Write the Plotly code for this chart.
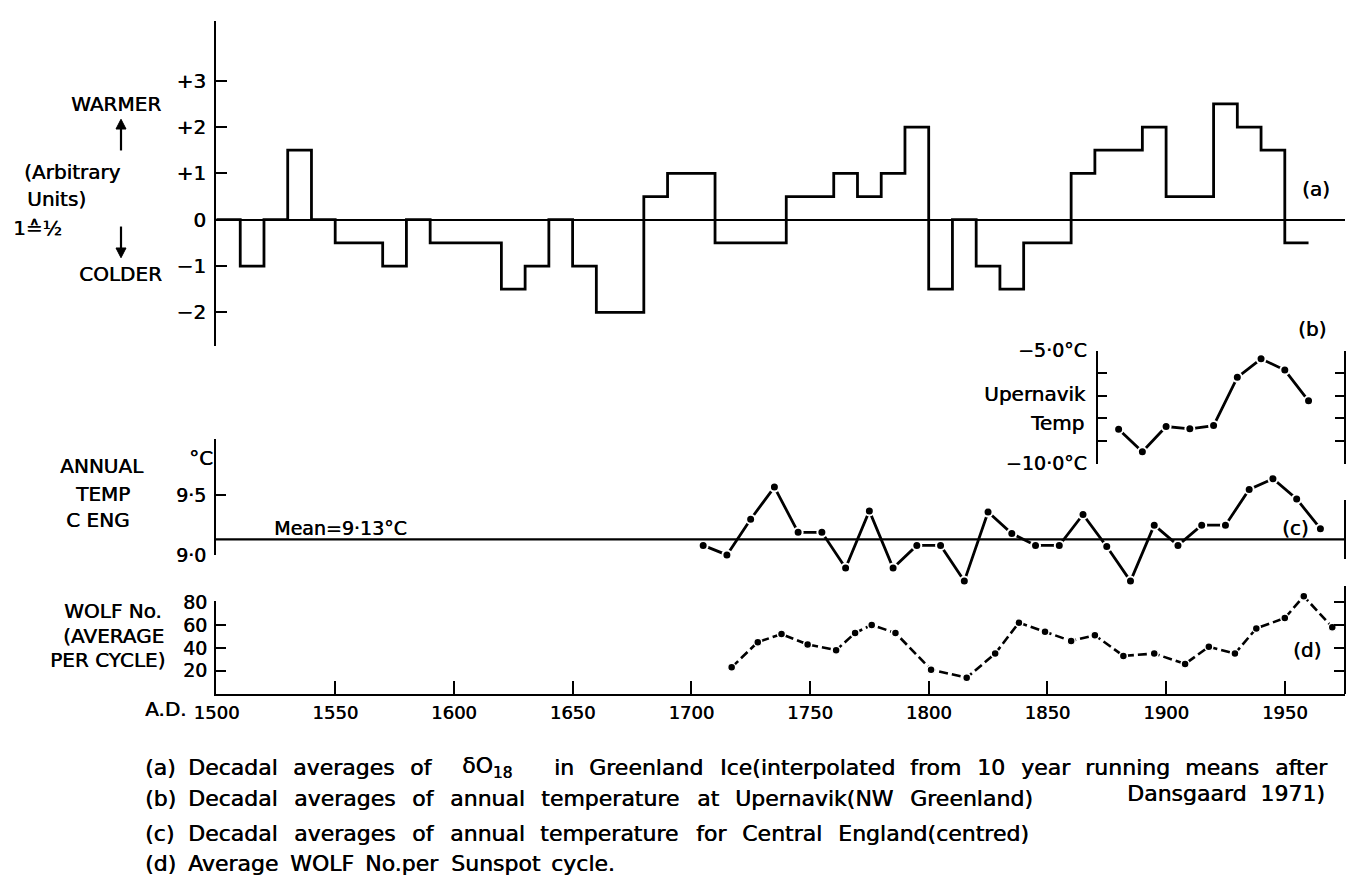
import plotly.graph_objects as go

# ---------------------------------------------------------------- data
# (a) decadal averages of d18O in Greenland ice (arbitrary units), by decade start
decade_start = [1500, 1510, 1520, 1530, 1540, 1550, 1560, 1570, 1580, 1590,
                1600, 1610, 1620, 1630, 1640, 1650, 1660, 1670, 1680, 1690,
                1700, 1710, 1720, 1730, 1740, 1750, 1760, 1770, 1780, 1790,
                1800, 1810, 1820, 1830, 1840, 1850, 1860, 1870, 1880, 1890,
                1900, 1910, 1920, 1930, 1940, 1950]
d18o = [0, -1, 0, 1.5, 0, -0.5, -0.5, -1, 0, -0.5,
        -0.5, -0.5, -1.5, -1, 0, -1, -2, -2, 0.5, 1,
        1, -0.5, -0.5, -0.5, 0.5, 0.5, 1, 0.5, 1, 2,
        -1.5, 0, -1, -1.5, -0.5, -0.5, 1, 1.5, 1.5, 2,
        0.5, 0.5, 2.5, 2, 1.5, -0.5]
last_decade_end = 1960

# (b) Upernavik decadal mean annual temperature (deg C)
upernavik_years = [1880, 1890, 1900, 1910, 1920, 1930, 1940, 1950, 1960]
upernavik_temp = [-8.48, -9.48, -8.36, -8.46, -8.32, -6.18, -5.36, -5.86, -7.22]

# (c) Central England decadal mean annual temperature (deg C), centred
cet_years = [1705, 1715, 1725, 1735, 1745, 1755, 1765, 1775, 1785, 1795,
             1805, 1815, 1825, 1835, 1845, 1855, 1865, 1875, 1885, 1895,
             1905, 1915, 1925, 1935, 1945, 1955, 1965]
cet_temp = [9.08, 9.00, 9.30, 9.57, 9.19, 9.19, 8.89, 9.37, 8.89, 9.08,
            9.08, 8.78, 9.36, 9.18, 9.08, 9.08, 9.34, 9.07, 8.78, 9.25,
            9.08, 9.25, 9.25, 9.55, 9.64, 9.47, 9.22]
cet_mean = 9.13

# (d) average Wolf number per sunspot cycle
wolf_years = [1717, 1728, 1738, 1749, 1761, 1769, 1776, 1786, 1801, 1816,
              1828, 1838, 1849, 1860, 1870, 1882, 1895, 1908, 1918, 1929,
              1938, 1950, 1958, 1970]
wolf_number = [23, 45, 52, 43, 38, 53, 60, 53, 21, 14,
               35, 62, 54, 46, 51, 33, 35, 26, 41, 35,
               57, 66, 85, 58]

year_ticks = [1500, 1550, 1600, 1650, 1700, 1750, 1800, 1850, 1900, 1950]
a_ticks = [-2, -1, 0, 1, 2, 3]
a_tick_text = ["\u22122", "\u22121", "0", "+1", "+2", "+3"]

# ---------------------------------------------------------------- layout helpers
W, H = 1355, 890
L, R = 216, 10
PLOT_W = W - L - R
X0 = 1499.79
X1 = X0 + PLOT_W / 2.374


def px_x(px):
    return (px - L) / PLOT_W


def px_y(py):
    return 1 - py / H


FONT = "DejaVu Sans"
INK = "#000000"
SHADOW = "0.5px 0px 0px #000000"   # slight embolden, like inked print


def font(size):
    return dict(family=FONT, size=size, color=INK, shadow=SHADOW)


fig = go.Figure()

# (a) step curve
fig.add_trace(go.Scatter(
    x=decade_start + [last_decade_end], y=d18o + [d18o[-1]],
    mode="lines", line=dict(color=INK, width=2.8, shape="hv"),
    xaxis="x", yaxis="y", showlegend=False, hoverinfo="skip"))

# (b) Upernavik
fig.add_trace(go.Scatter(
    x=upernavik_years, y=upernavik_temp, mode="lines+markers",
    line=dict(color=INK, width=2.8),
    marker=dict(size=9, color=INK, line=dict(color="white", width=2)),
    xaxis="x", yaxis="y2", showlegend=False, hoverinfo="skip"))
fig.add_trace(go.Scatter(x=[], y=[], xaxis="x", yaxis="y3",
                         showlegend=False, hoverinfo="skip"))

# (c) Central England
fig.add_trace(go.Scatter(
    x=cet_years, y=cet_temp, mode="lines+markers",
    line=dict(color=INK, width=2.8),
    marker=dict(size=9, color=INK, line=dict(color="white", width=2)),
    xaxis="x", yaxis="y4", showlegend=False, hoverinfo="skip"))
fig.add_trace(go.Scatter(x=[], y=[], xaxis="x", yaxis="y5",
                         showlegend=False, hoverinfo="skip"))
fig.add_trace(go.Scatter(x=[], y=[], xaxis="x", yaxis="y6",
                         showlegend=False, hoverinfo="skip"))

# (d) Wolf number
fig.add_trace(go.Scatter(
    x=wolf_years, y=wolf_number, mode="lines+markers",
    line=dict(color=INK, width=2.6, dash="9px,4px"),
    marker=dict(size=8, color=INK, line=dict(color="white", width=1.5)),
    xaxis="x", yaxis="y7", showlegend=False, hoverinfo="skip"))
fig.add_trace(go.Scatter(x=[], y=[], xaxis="x", yaxis="y8",
                         showlegend=False, hoverinfo="skip"))

axis_common = dict(showgrid=False, linecolor=INK, linewidth=2.2,
                   tickcolor=INK, tickwidth=2.2, fixedrange=True,
                   tickfont=font(19))

# CET data axis: 122 px per degree, 9.0 at y=557.7 px
cet_lo = 9.0 - (600 - 557.7) / 122
cet_hi = 9.0 + (557.7 - 430) / 122
cet_top = 9.0 + (557.7 - 439) / 122

fig.update_layout(
    width=W, height=H,
    margin=dict(l=L, r=R, t=0, b=0),
    paper_bgcolor="white", plot_bgcolor="rgba(0,0,0,0)",
    showlegend=False,
    xaxis=dict(domain=[0, 1], range=[X0, X1], anchor="y8",
               showline=True, ticks="inside", ticklen=13,
               tickvals=year_ticks, ticktext=[str(v) for v in year_ticks],
               zeroline=False, ticklabelstandoff=2,
               **{**axis_common, "tickfont": font(18)}),
    # (a)
    yaxis=dict(domain=[px_y(343), px_y(10)],
               range=[-(343 - 214) / 47.5, (214 - 10) / 47.5],
               anchor="x", showline=True, ticks="inside", ticklen=11,
               tickvals=a_ticks, ticktext=a_tick_text,
               zeroline=True, zerolinecolor=INK, zerolinewidth=2.2,
               ticklabelstandoff=4,
               **{**axis_common, "tickfont": font(20)}),
    # (b) left bracket + data
    yaxis2=dict(domain=[px_y(464), px_y(348.3)], range=[-10, -5],
                anchor="free", position=px_x(1096.7),
                showline=True, ticks="inside", ticklen=9,
                tickvals=[-10, -5],
                ticktext=["\u221210\u00b70\u00b0C", "\u22125\u00b70\u00b0C"],
                minor=dict(tickvals=[-9, -8, -7, -6], ticks="inside",
                           ticklen=9, tickwidth=2.2, tickcolor=INK),
                zeroline=False, ticklabelstandoff=5, **axis_common),
    # (b) right bracket
    yaxis3=dict(overlaying="y2", side="right", range=[-10, -5],
                anchor="free", position=1, showline=True,
                ticks="inside", ticklen=9,
                tickvals=[-10, -9, -8, -7, -6, -5],
                showticklabels=False, zeroline=False, **axis_common),
    # (c) data axis (not drawn)
    yaxis4=dict(domain=[px_y(600), px_y(430)], range=[cet_lo, cet_hi],
                anchor="x", visible=False, fixedrange=True),
    # (c) left bracket
    yaxis5=dict(domain=[px_y(557.7), px_y(439)], range=[9.0, cet_top],
                anchor="x", showline=True, ticks="inside", ticklen=10,
                tickvals=[9.0, 9.5], ticktext=["9\u00b70", "9\u00b75"],
                minor=dict(tickvals=[cet_top], ticks="inside",
                           ticklen=10, tickwidth=2.2, tickcolor=INK),
                zeroline=False, ticklabelstandoff=4, **axis_common),
    # (c) right bracket
    yaxis6=dict(domain=[px_y(561.7), px_y(501.7)], range=[0, 1],
                anchor="free", position=1, side="right", showline=True,
                ticks="inside", ticklen=10, tickvals=[0, 1],
                showticklabels=False, zeroline=False, **axis_common),
    # (d) data axis + right bracket
    yaxis7=dict(domain=[px_y(700), px_y(590)], range=[0, 110 / 1.175],
                anchor="free", position=1, side="right", showline=True,
                ticks="inside", ticklen=10, tickvals=[20, 40, 60, 80],
                showticklabels=False, zeroline=False, **axis_common),
    # (d) left axis with labels
    yaxis8=dict(domain=[px_y(700), px_y(605)], range=[0, 95 / 1.175],
                anchor="x", showline=True, ticks="inside", ticklen=10,
                tickvals=[20, 40, 60, 80], ticktext=["20", "40", "60", "80"],
                zeroline=False, ticklabelstandoff=3, **axis_common),
)

# mean line of the Central England series
fig.add_shape(type="line", xref="x domain", x0=0, x1=1,
              yref="y4", y0=cet_mean, y1=cet_mean,
              line=dict(color=INK, width=2.2))


def label(text, px, py, size=20, anchor="center"):
    fig.add_annotation(text=text, x=px_x(px), y=px_y(py),
                       xref="paper", yref="paper", showarrow=False,
                       xanchor=anchor, yanchor="middle", font=font(size))


def arrow(px, tail_py, head_py):
    """Vertical arrow drawn with a stem and a filled head (paper coords)."""
    sign = 1 if tail_py > head_py else -1
    base = head_py + sign * 10
    fig.add_shape(type="line", xref="paper", yref="paper",
                  x0=px_x(px), x1=px_x(px), y0=px_y(tail_py), y1=px_y(base),
                  line=dict(color=INK, width=2.2))
    fig.add_shape(type="path", xref="paper", yref="paper",
                  path=(f"M {px_x(px)},{px_y(head_py)} "
                        f"L {px_x(px - 5)},{px_y(base)} "
                        f"L {px_x(px + 5)},{px_y(base)} Z"),
                  fillcolor=INK, line=dict(color=INK, width=1))


# rough DejaVu Sans advance widths (em) used to space caption words
_WIDE = dict(zip("abcdefghijklmnopqrstuvwxyz",
                 [.61, .64, .55, .64, .62, .35, .64, .63, .28, .28, .58, .28, .97,
                  .63, .61, .64, .64, .41, .52, .39, .63, .59, .82, .59, .59, .53]))
_CAPS = dict(zip("ACDEGILNOSUWF", [.68, .70, .77, .63, .78, .30, .56, .75, .79,
                                   .64, .73, .99, .58]))


def text_em(s):
    s = s.replace("<sub>", "").replace("</sub>", "")
    total = 0.0
    for ch in s:
        if ch in _WIDE:
            total += _WIDE[ch]
        elif ch in _CAPS:
            total += _CAPS[ch]
        elif ch.isdigit():
            total += 0.64
        elif ch in "().,":
            total += 0.37
        else:
            total += 0.68
    return total


def caption_line(words, x_start, x_end, py, size, gap_weights=None):
    """Place words left to right, spreading the spare room over the gaps."""
    widths = [text_em(w) * size for w in words]
    if gap_weights is None:
        gap_weights = [1] * (len(words) - 1)
    gap = (x_end - x_start - sum(widths)) / sum(gap_weights)
    x = x_start
    for i, w in enumerate(words):
        label(w, x, py, size, "left")
        if i < len(gap_weights):
            x += widths[i] + gap * gap_weights[i]


# (a) side labels
label("WARMER", 116, 95, 20)
label("(Arbitrary", 72, 165, 20)
label("Units)", 56, 193, 20)
label("1\u2259\u00bd", 37, 222, 20)
label("COLDER", 120, 270, 20)
arrow(121, 143, 111)
arrow(121, 221, 253)
label("(a)", 1316, 183, 20)

# (b) labels
label("(b)", 1312, 326, 20)
label("Upernavik", 1088, 393, 20, "right")
label("Temp", 1057, 422, 20)

# (c) labels
label("\u00b0C", 201, 458, 20)
label("ANNUAL", 102, 467, 20)
label("TEMP", 102, 495, 20)
label("C ENG", 97, 522, 20)
label(f"Mean={cet_mean:.2f}\u00b0C".replace(".", "\u00b7"), 340, 530, 19)
label("(c)", 1295, 530, 20)

# (d) labels
label("WOLF No.", 113, 615, 20)
label("(AVERAGE", 113, 641, 20)
label("PER CYCLE)", 107, 665, 20)
label("(d)", 1307, 655, 20)
label("A.D.", 188, 716, 20, "right")

# caption
cap = 22
c0 = 186
label("(a)", 143, 776, cap, "left")
caption_line(["Decadal", "averages", "of", "\u03b4O<sub>18</sub>", "in",
              "Greenland", "Ice(interpolated", "from", "10", "year",
              "running", "means", "after"], c0, 1325, 776, cap,
             gap_weights=[1, 1, 2, 2, 1, 1, 1, 1, 1, 1, 1, 1])
label("(b)", 143, 807, cap, "left")
caption_line(["Decadal", "averages", "of", "annual", "temperature", "at",
              "Upernavik(NW", "Greenland)"], c0, 1031, 807, cap)
label("Dansgaard  1971)", 1327, 802, cap, "right")
label("(c)", 143, 843, cap, "left")
caption_line(["Decadal", "averages", "of", "annual", "temperature", "for",
              "Central", "England(centred)"], c0, 1027, 843, cap)
label("(d)", 143, 874, cap, "left")
caption_line(["Average", "WOLF", "No.per", "Sunspot", "cycle."],
             c0, 614, 874, cap)

fig.write_html("out.html", config={"displayModeBar": False})
